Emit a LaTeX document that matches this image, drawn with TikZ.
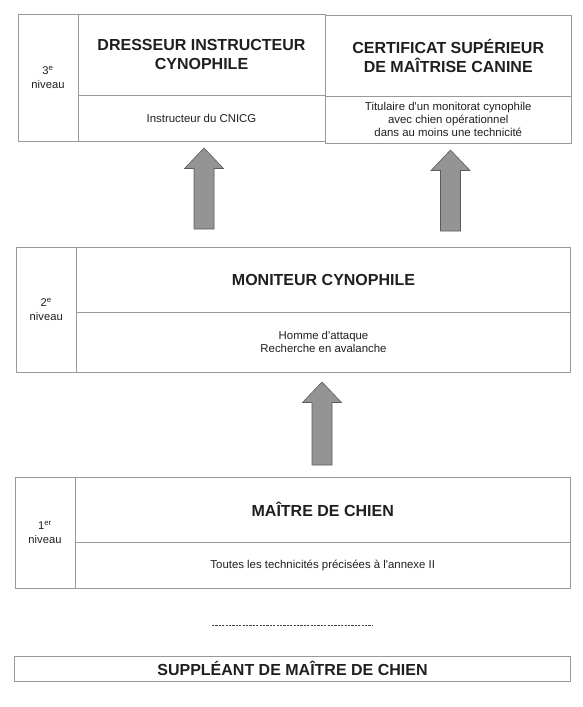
\documentclass[tikz,border=0pt]{standalone}
\usepackage{fontspec}
\setmainfont{Liberation Sans}
\usetikzlibrary{calc}
\definecolor{boxline}{gray}{0.6}
\definecolor{txt}{gray}{0.12}
\definecolor{arrfill}{gray}{0.58}
\definecolor{arrline}{gray}{0.36}
\tikzset{
  cell/.style={draw=boxline, line width=0.7pt, inner sep=0pt, outer sep=0pt, align=center, text=txt},
  titletext/.style={font=\fontsize{16}{19}\selectfont\bfseries},
  smalltext/.style={font=\fontsize{11.4}{13}\selectfont},
  leveltext/.style={font=\fontsize{11.2}{14}\selectfont},
  blockarrow/.style={fill=arrfill, draw=arrline, line width=0.6pt, line join=miter},
  dashline/.style={draw=black!75, line width=0.6pt, dash pattern=on 2.2pt off 1.2pt}
}
\newcommand{\blkarrow}[2]{%
  \draw[blockarrow] ($(#1)+(-10,0)$) -- ($(#2)+(-10,20.5)$) -- ($(#2)+(-19.5,20.5)$) -- (#2)
    -- ($(#2)+(19.5,20.5)$) -- ($(#2)+(10,20.5)$) -- ($(#1)+(10,0)$) -- cycle;}
\newcommand{\apos}{\textquotesingle}
\begin{document}
\begin{tikzpicture}[x=1pt, y=-1pt]
\useasboundingbox (0,0) rectangle (582,707);
% Level 3
\node[cell, leveltext, minimum width=60pt, minimum height=127.5pt] (lv3) at (48,77.75) {3\textsuperscript{e}\\niveau};
\node[cell, titletext, minimum width=247pt, minimum height=81pt] (t3a) at (201.5,54.5) {DRESSEUR INSTRUCTEUR\\CYNOPHILE};
\node[cell, titletext, minimum width=246.5pt, minimum height=81pt] (t3b) at (448.25,55.5) {CERTIFICAT SUPÉRIEUR\\DE MAÎTRISE CANINE};
\node[cell, smalltext, minimum width=247pt, minimum height=46.5pt] (s3a) at (201.5,118.25) {Instructeur du CNICG};
\node[cell, smalltext, minimum width=246.5pt, minimum height=46.5pt] (s3b) at (448.25,119.75) {Titulaire d\apos un monitorat cynophile\\avec chien opérationnel\\dans au moins une technicité};
% Level 2
\node[cell, leveltext, minimum width=60.5pt, minimum height=125pt] (lv2) at (46.25,309.5) {2\textsuperscript{e}\\niveau};
\node[cell, titletext, minimum width=494pt, minimum height=65pt] (t2) at (323.5,279.5) {MONITEUR CYNOPHILE};
\node[cell, smalltext, minimum width=494pt, minimum height=60pt] (s2) at (323.5,342) {Homme d\apos attaque\\Recherche en avalanche};
% Level 1
\node[cell, leveltext, minimum width=60pt, minimum height=111pt] (lv1) at (45,532.5) {1\textsuperscript{er}\\niveau};
\node[cell, titletext, minimum width=495.5pt, minimum height=65pt] (t1) at (322.75,509.5) {MAÎTRE DE CHIEN};
\node[cell, smalltext, minimum width=495.5pt, minimum height=46pt] (s1) at (322.75,565) {Toutes les technicités précisées à l\apos annexe II};
% Suppleant
\node[cell, titletext, minimum width=556pt, minimum height=25.5pt] (sup) at (292.5,668.75) {SUPPLÉANT DE MAÎTRE DE CHIEN};
% dashed separator
\coordinate (dl) at (212,625);
\coordinate (dr) at (372,625);
\draw[dashline] (dl) -- (dr);
% arrows
\coordinate (a1s) at (204,229);   \coordinate (a1t) at (204,148);
\coordinate (a2s) at (450.5,231); \coordinate (a2t) at (450.5,150);
\coordinate (a3s) at (322,465);   \coordinate (a3t) at (322,382);
\blkarrow{a1s}{a1t}
\blkarrow{a2s}{a2t}
\blkarrow{a3s}{a3t}
\end{tikzpicture}
\end{document}
